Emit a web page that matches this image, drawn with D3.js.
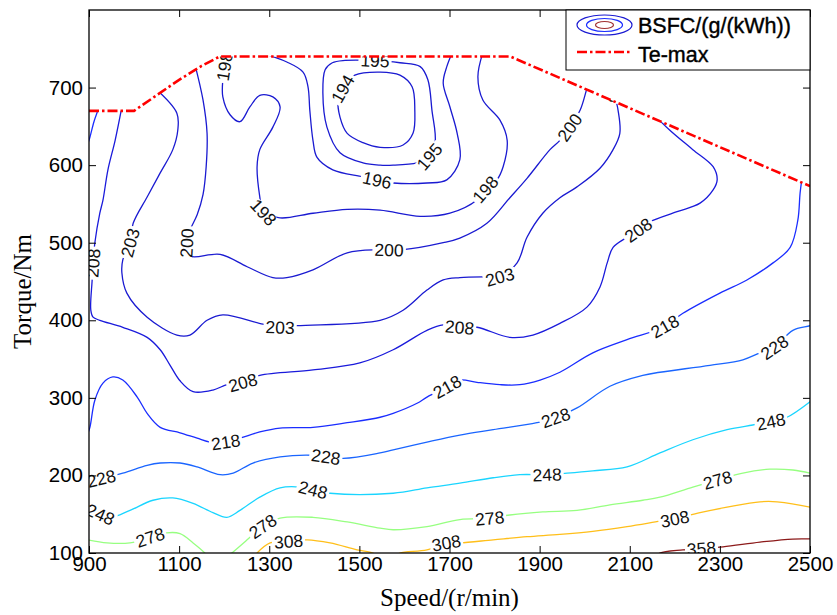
<!DOCTYPE html>
<html>
<head>
<meta charset="utf-8">
<script src="https://cdn.jsdelivr.net/npm/d3@7"></script>
<style>
  body { margin: 0; background: #fff; }
  text { font-family: "Liberation Sans", Arial, sans-serif; }
</style>
</head>
<body>
<svg id="chart"></svg>
<script>
// osi
const speedTicks = [900, 1100, 1300, 1500, 1700, 1900, 2100, 2300, 2500];
const torqueTicks = [100, 200, 300, 400, 500, 600, 700];

// vanjska karakteristika (Te-max), [speed, torque]
const teMax = [[900, 670], [1000, 670], [1050, 690], [1100, 710], [1150, 728], [1190, 740], [1835, 740], [2500, 573]];

// izolinije BSFC, [speed, torque]
const c194 = [[1453, 684], [1468, 703], [1490, 716], [1546, 720], [1590, 716], [1617, 701], [1623, 671], [1619, 641], [1597, 626], [1546, 623], [1508, 629], [1473, 641], [1457, 662]];
const c195 = [[1424, 723], [1440, 732], [1468, 735], [1528, 735], [1590, 732], [1635, 727], [1652, 710], [1661, 671], [1668, 629], [1652, 609], [1628, 603], [1575, 600], [1546, 600], [1508, 603], [1457, 616], [1428, 649], [1419, 693]];
const c196 = [[1279, 745], [1339, 733], [1375, 720], [1386, 701], [1390, 671], [1397, 632], [1406, 610], [1441, 594], [1508, 585], [1546, 580], [1575, 577], [1650, 577], [1694, 581], [1723, 607], [1717, 641], [1701, 675], [1686, 706], [1694, 727], [1706, 745]];
const c198 = [[1206, 745], [1197, 710], [1197, 688], [1213, 665], [1235, 656], [1257, 675], [1279, 690], [1308, 688], [1324, 675], [1308, 649], [1279, 620], [1273, 598], [1279, 559], [1286, 540], [1324, 532], [1397, 538], [1473, 543], [1546, 542], [1635, 534], [1701, 538], [1761, 555], [1783, 571], [1805, 581], [1819, 598], [1828, 632], [1812, 658], [1774, 684], [1763, 714], [1774, 745]];
const c200 = [[1135, 730], [1153, 684], [1162, 641], [1160, 598], [1153, 562], [1140, 536], [1124, 516], [1117, 500], [1124, 483], [1191, 485], [1251, 469], [1308, 455], [1339, 455], [1397, 465], [1473, 487], [1546, 491], [1597, 491], [1686, 500], [1723, 506], [1783, 525], [1834, 558], [1872, 583], [1923, 620], [1945, 632], [1967, 649], [1990, 671], [2005, 699], [2012, 712]];
const c203 = [[1045, 700], [1095, 667], [1097, 645], [1086, 620], [1058, 590], [1029, 559], [998, 525], [991, 500], [975, 478], [973, 461], [984, 435], [1029, 404], [1095, 381], [1124, 381], [1162, 400], [1197, 407], [1286, 395], [1324, 391], [1362, 393], [1546, 400], [1597, 413], [1650, 439], [1686, 452], [1723, 455], [1783, 456], [1812, 456], [1850, 474], [1872, 507], [1907, 538], [1945, 558], [1983, 572], [2034, 596], [2063, 620], [2078, 641], [2074, 671], [2065, 694], [2060, 712]];
const c208 = [[973, 675], [958, 632], [942, 594], [931, 555], [924, 538], [913, 500], [909, 474], [907, 452], [904, 413], [909, 404], [924, 400], [975, 391], [1029, 378], [1058, 362], [1080, 342], [1102, 322], [1131, 308], [1175, 310], [1206, 317], [1242, 320], [1279, 329], [1397, 336], [1501, 345], [1575, 362], [1650, 387], [1686, 394], [1723, 391], [1761, 391], [1834, 378], [1885, 381], [1945, 396], [2005, 417], [2034, 443], [2050, 474], [2063, 494], [2094, 507], [2118, 516], [2145, 527], [2205, 540], [2256, 551], [2285, 568], [2294, 581], [2285, 598], [2240, 620], [2189, 645], [2160, 662], [2145, 675]];
const c218a = [[896, 625], [902, 636], [911, 656], [920, 671], [926, 682]];
const c218 = [[896, 252], [902, 262], [913, 297], [931, 319], [953, 327], [975, 323], [1007, 301], [1029, 280], [1058, 262], [1102, 255], [1140, 248], [1169, 243], [1202, 243], [1235, 248], [1279, 256], [1324, 261], [1397, 262], [1473, 268], [1546, 275], [1575, 280], [1628, 293], [1650, 301], [1694, 314], [1723, 323], [1761, 320], [1812, 317], [1856, 317], [1901, 323], [1945, 333], [2018, 358], [2094, 375], [2174, 391], [2218, 409], [2300, 435], [2360, 452], [2418, 474], [2456, 494], [2473, 529], [2478, 564], [2482, 582]];
const c228 = [[896, 190], [902, 192], [975, 203], [1029, 213], [1058, 216], [1102, 216], [1140, 211], [1191, 201], [1220, 203], [1264, 216], [1324, 224], [1397, 226], [1464, 222], [1546, 229], [1575, 233], [1650, 243], [1723, 252], [1797, 259], [1894, 268], [1934, 274], [1983, 287], [2056, 315], [2129, 329], [2167, 333], [2278, 342], [2351, 349], [2389, 358], [2418, 364], [2462, 387], [2500, 393], [2506, 395]];
const c248 = [[896, 152], [902, 155], [947, 146], [991, 155], [1042, 168], [1086, 171], [1131, 164], [1175, 152], [1206, 146], [1235, 155], [1279, 172], [1324, 184], [1368, 185], [1435, 177], [1575, 177], [1650, 184], [1723, 190], [1797, 197], [1856, 201], [1916, 201], [1961, 203], [2018, 206], [2094, 211], [2167, 229], [2240, 246], [2316, 259], [2373, 265], [2411, 269], [2449, 275], [2500, 295], [2506, 298]];
const c278a = [[896, 117], [940, 113], [991, 113], [1013, 116], [1073, 126], [1102, 125], [1131, 113], [1157, 100], [1165, 94]];
const c278b = [[1208, 96], [1217, 100], [1251, 117], [1284, 134], [1324, 145], [1397, 146], [1473, 140], [1546, 132], [1575, 130], [1650, 134], [1723, 143], [1790, 145], [1834, 149], [1907, 153], [1983, 155], [2056, 162], [2129, 168], [2167, 172], [2240, 185], [2294, 194], [2351, 203], [2411, 208], [2462, 207], [2500, 203], [2506, 202]];
const c308a = [[1268, 96], [1273, 100], [1302, 113], [1342, 115], [1384, 117], [1435, 113], [1495, 104], [1530, 100], [1541, 96]];
const c308b = [[1581, 96], [1590, 100], [1650, 104], [1694, 113], [1723, 113], [1797, 117], [1872, 121], [1945, 124], [2018, 128], [2094, 134], [2167, 141], [2200, 144], [2256, 152], [2316, 159], [2389, 166], [2427, 166], [2500, 159], [2506, 158]];
const c358 = [[2158, 96], [2167, 100], [2218, 104], [2260, 106], [2307, 108], [2389, 114], [2462, 118], [2506, 118]];

// oznake izolinija: [razina, speed, torque]
const labels = [
  [194, 1470, 696], [195, 1535, 732], [195, 1657, 610], [196, 1539, 578],
  [198, 1202, 727], [198, 1291, 541], [198, 1783, 567],
  [200, 1117, 500], [200, 1566, 489], [200, 1967, 649],
  [203, 993, 500], [203, 1324, 391], [203, 1812, 456], [203, 2061, 700],
  [208, 913, 474], [208, 1242, 320], [208, 1723, 391], [208, 2120, 515],
  [218, 1204, 242], [218, 1694, 314], [218, 2176, 393],
  [228, 929, 193], [228, 1426, 222], [228, 1936, 274], [228, 2420, 366],
  [248, 924, 148], [248, 1397, 180], [248, 1916, 201], [248, 2413, 269],
  [278, 1038, 118], [278, 1284, 135], [278, 1790, 145], [278, 2296, 192],
  [308, 1342, 114], [308, 1694, 110], [308, 2200, 141],
  [358, 2260, 105]
];

const contours = [
  { level: 194, closed: true, pts: c194 },
  { level: 195, closed: true, pts: c195 },
  { level: 196, pts: c196 },
  { level: 198, pts: c198 },
  { level: 200, pts: c200 },
  { level: 203, pts: c203 },
  { level: 208, pts: c208 },
  { level: 218, pts: c218a },
  { level: 218, pts: c218 },
  { level: 228, pts: c228 },
  { level: 248, pts: c248 },
  { level: 278, pts: c278a },
  { level: 278, pts: c278b },
  { level: 308, pts: c308a },
  { level: 308, pts: c308b },
  { level: 358, pts: c358 }
];

const W = 837, H = 615;
const margin = { top: 10, right: 27, bottom: 62, left: 89 };
const width = W - margin.left - margin.right;
const height = H - margin.top - margin.bottom;

const svg = d3.select('#chart').attr('width', W).attr('height', H);
svg.append('rect').attr('width', W).attr('height', H).attr('fill', '#fff');

const g = svg.append('g').attr('transform', `translate(${margin.left},${margin.top})`);

const x = d3.scaleLinear().domain([900, 2500]).range([0, width]);
const y = d3.scaleLinear().domain([100, 800]).range([height, 0]);

// jet boje kao u MATLAB-u
function jet(level) {
  const t = (level - 194) / (358 - 194);
  const c = v => Math.max(0, Math.min(1, v));
  const r = c(1.5 - Math.abs(4 * t - 3));
  const gg = c(1.5 - Math.abs(4 * t - 2));
  let b = c(1.5 - Math.abs(4 * t - 1));
  if (t < 0.25) b = Math.max(b, 0.8);
  return d3.interpolateRgb(d3.rgb(r * 255, gg * 255, b * 255), '#ffffff')(0.1);
}

g.append('clipPath').attr('id', 'plotClip')
  .append('rect').attr('width', width).attr('height', height);

const plot = g.append('g').attr('clip-path', 'url(#plotClip)');

const lineOpen = d3.line().x(d => x(d[0])).y(d => y(d[1])).curve(d3.curveCatmullRom.alpha(0.5));
const lineClosed = d3.line().x(d => x(d[0])).y(d => y(d[1])).curve(d3.curveCatmullRomClosed.alpha(0.5));

const paths = plot.selectAll('.contour')
  .data(contours)
  .enter()
  .append('path')
  .attr('class', 'contour')
  .attr('d', d => d.closed ? lineClosed(d.pts) : lineOpen(d.pts))
  .attr('fill', 'none')
  .attr('stroke', d => jet(d.level))
  .attr('stroke-width', 1.3);

// oznake na izolinijama (položaj i kut iz same krivulje)
const labelLayer = plot.append('g');
labels.forEach(([lv, sp, tq]) => {
  const px = x(sp), py = y(tq);
  let best = null;
  paths.filter(d => d.level === lv).each(function () {
    const len = this.getTotalLength();
    for (let l = 0; l <= len; l += 1) {
      const p = this.getPointAtLength(l);
      const dd = (p.x - px) ** 2 + (p.y - py) ** 2;
      if (!best || dd < best.dd) best = { dd, l, len, node: this, p };
    }
  });
  const a = best.node.getPointAtLength(Math.max(0, best.l - 6));
  const b = best.node.getPointAtLength(Math.min(best.len, best.l + 6));
  let ang = Math.atan2(b.y - a.y, b.x - a.x) * 180 / Math.PI;
  if (ang <= -90) ang += 180;
  if (ang > 90) ang -= 180;
  if (ang >= 84) ang -= 180;

  const lg = labelLayer.append('g')
    .attr('transform', `translate(${best.p.x},${best.p.y}) rotate(${ang})`);
  const bg = lg.append('rect').attr('fill', '#fff');
  const t = lg.append('text')
    .attr('text-anchor', 'middle')
    .attr('dy', '0.36em')
    .attr('font-size', 17.5)
    .attr('fill', '#111')
    .text(lv);
  const bb = t.node().getBBox();
  bg.attr('x', bb.x - 2).attr('y', -6).attr('width', bb.width + 4).attr('height', 12);
});

// maska iznad Te-max krivulje
const maskPts = teMax.concat([[2520, 573], [2520, 820], [880, 820], [880, 670]]);
plot.append('path')
  .attr('d', d3.line().x(d => x(d[0])).y(d => y(d[1]))(maskPts) + 'Z')
  .attr('fill', '#fff');

plot.append('path')
  .attr('d', d3.line().x(d => x(d[0])).y(d => y(d[1]))(teMax))
  .attr('fill', 'none')
  .attr('stroke', '#ff0000')
  .attr('stroke-width', 2.6)
  .attr('stroke-dasharray', '10,3,2.5,3');

// osi
const tickFont = 20.5;
const xAxis = g.append('g')
  .attr('transform', `translate(0,${height})`)
  .call(d3.axisBottom(x).tickValues(speedTicks).tickFormat(d3.format('d'))
    .tickSizeInner(-7).tickSizeOuter(0).tickPadding(3));
const xTop = g.append('g')
  .call(d3.axisTop(x).tickValues(speedTicks).tickFormat('')
    .tickSizeInner(-7).tickSizeOuter(0));
const yAxis = g.append('g')
  .call(d3.axisLeft(y).tickValues(torqueTicks).tickFormat(d3.format('d'))
    .tickSizeInner(-7).tickSizeOuter(0).tickPadding(6));
const yRight = g.append('g')
  .attr('transform', `translate(${width},0)`)
  .call(d3.axisRight(y).tickValues(torqueTicks).tickFormat('')
    .tickSizeInner(-7).tickSizeOuter(0));

[xAxis, xTop, yAxis, yRight].forEach(ax => {
  ax.select('.domain').remove();
  ax.selectAll('.tick line').attr('stroke', '#000').attr('stroke-width', 1);
  ax.selectAll('.tick text')
    .attr('font-family', '"Liberation Sans", Arial, sans-serif')
    .attr('font-size', tickFont)
    .attr('fill', '#000');
});

g.append('rect')
  .attr('width', width)
  .attr('height', height)
  .attr('fill', 'none')
  .attr('stroke', '#000')
  .attr('stroke-width', 1.3);

svg.append('text')
  .attr('x', margin.left + width / 2)
  .attr('y', 606)
  .attr('text-anchor', 'middle')
  .style('font-family', '"Liberation Serif", "Times New Roman", serif')
  .attr('font-size', 25)
  .text('Speed/(r/min)');

svg.append('text')
  .attr('transform', `translate(31,${margin.top + height / 2 + 10}) rotate(-90)`)
  .attr('text-anchor', 'middle')
  .style('font-family', '"Liberation Serif", "Times New Roman", serif')
  .attr('font-size', 25)
  .text('Torque/Nm');

// legenda
const legend = svg.append('g').attr('transform', 'translate(566,10)');
legend.append('rect')
  .attr('width', 244).attr('height', 60)
  .attr('fill', '#fff').attr('stroke', '#000').attr('stroke-width', 1);
legend.append('ellipse').attr('cx', 38.5).attr('cy', 15).attr('rx', 27.5).attr('ry', 10)
  .attr('fill', 'none').attr('stroke', jet(200)).attr('stroke-width', 1.2);
legend.append('ellipse').attr('cx', 38.5).attr('cy', 15).attr('rx', 18).attr('ry', 6.5)
  .attr('fill', 'none').attr('stroke', jet(218)).attr('stroke-width', 1.2);
legend.append('ellipse').attr('cx', 38.5).attr('cy', 15).attr('rx', 9).attr('ry', 3.5)
  .attr('fill', 'none').attr('stroke', '#a03030').attr('stroke-width', 1.2);
legend.append('text').attr('x', 72).attr('y', 23).attr('font-size', 21.5).attr('fill', '#000')
  .attr('stroke', '#000').attr('stroke-width', 0.4)
  .text('BSFC/(g/(kWh))');
legend.append('line').attr('x1', 11).attr('x2', 66).attr('y1', 42).attr('y2', 42)
  .attr('stroke', '#ff0000').attr('stroke-width', 2.6).attr('stroke-dasharray', '10,3,2.5,3');
legend.append('text').attr('x', 72).attr('y', 52).attr('font-size', 21.5).attr('fill', '#000')
  .attr('stroke', '#000').attr('stroke-width', 0.4)
  .text('Te-max');
</script>
</body>
</html>
